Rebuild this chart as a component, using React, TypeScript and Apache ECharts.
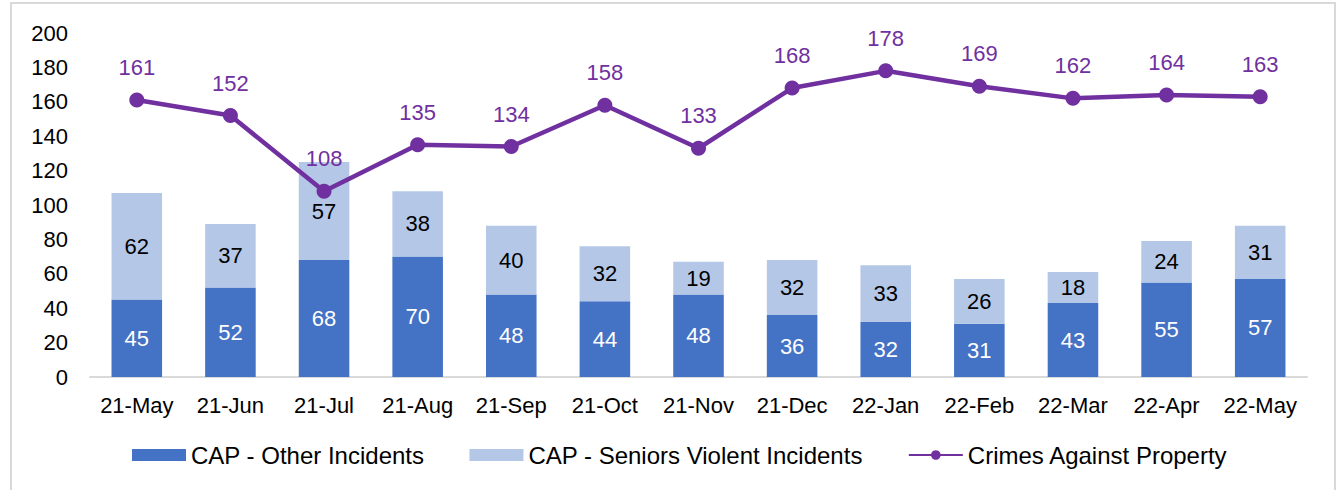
import React, { useEffect, useRef } from "react";
import * as echarts from "echarts";

const categories = ["21-May", "21-Jun", "21-Jul", "21-Aug", "21-Sep", "21-Oct", "21-Nov", "21-Dec", "22-Jan", "22-Feb", "22-Mar", "22-Apr", "22-May"];
const otherIncidents = [45, 52, 68, 70, 48, 44, 48, 36, 32, 31, 43, 55, 57];
const seniorsViolent = [62, 37, 57, 38, 40, 32, 19, 32, 33, 26, 18, 24, 31];
const crimesAgainstProperty = [161, 152, 108, 135, 134, 158, 133, 168, 178, 169, 162, 164, 163];

const FONT = "Liberation Sans, Arial, sans-serif";

export default function App() {
  const ref = useRef<HTMLDivElement>(null);
  useEffect(() => {
    if (!ref.current) return;
    const chart = echarts.init(ref.current, null, { renderer: "svg" });
    chart.setOption({
      animation: false,
      backgroundColor: "#ffffff",
      textStyle: { fontFamily: FONT },
      graphic: [
        {
          type: "rect",
          shape: { x: 11, y: 3, width: 1324, height: 520 },
          style: { fill: "none", stroke: "#D9D9D9", lineWidth: 2 },
          silent: true,
        },
      ],
      grid: { left: 90, right: 33, top: 33, bottom: 113, containLabel: false },
      legend: {
        bottom: 18,
        left: 127,
        itemWidth: 54,
        itemHeight: 12,
        itemGap: 45,
        textStyle: { fontSize: 24, color: "#000", fontFamily: FONT },
        data: [
          { name: "CAP - Other Incidents", icon: "rect" },
          { name: "CAP - Seniors Violent Incidents", icon: "rect" },
          { name: "Crimes Against Property" },
        ],
      },
      xAxis: {
        type: "category",
        data: categories,
        axisLine: { lineStyle: { color: "#D9D9D9", width: 2 } },
        axisTick: { show: false },
        axisLabel: { fontSize: 22, color: "#000", margin: 17, interval: 0, fontFamily: FONT },
      },
      yAxis: {
        type: "value",
        min: 0,
        max: 200,
        interval: 20,
        axisLine: { show: false },
        axisTick: { show: false },
        splitLine: { show: false },
        axisLabel: { fontSize: 22, color: "#000", margin: 22, fontFamily: FONT },
      },
      series: [
        {
          name: "CAP - Other Incidents",
          type: "bar",
          stack: "cap",
          barWidth: "54%",
          data: otherIncidents,
          itemStyle: { color: "#4472C4" },
          label: { show: true, position: "inside", color: "#fff", fontSize: 22, fontFamily: FONT },
        },
        {
          name: "CAP - Seniors Violent Incidents",
          type: "bar",
          stack: "cap",
          barWidth: "54%",
          data: seniorsViolent,
          itemStyle: { color: "#B4C7E7" },
          label: { show: true, position: "inside", color: "#000", fontSize: 22, fontFamily: FONT },
        },
        {
          name: "Crimes Against Property",
          type: "line",
          data: crimesAgainstProperty,
          symbol: "circle",
          symbolSize: 15,
          lineStyle: { color: "#7030A0", width: 4.5 },
          itemStyle: { color: "#7030A0" },
          label: { show: true, position: "top", distance: 14, color: "#7030A0", fontSize: 22, fontFamily: FONT },
          z: 5,
        },
      ],
    });
    return () => chart.dispose();
  }, []);
  return <div ref={ref} style={{ position: "fixed", left: 0, top: 0, width: 1340, height: 490 }} />;
}
